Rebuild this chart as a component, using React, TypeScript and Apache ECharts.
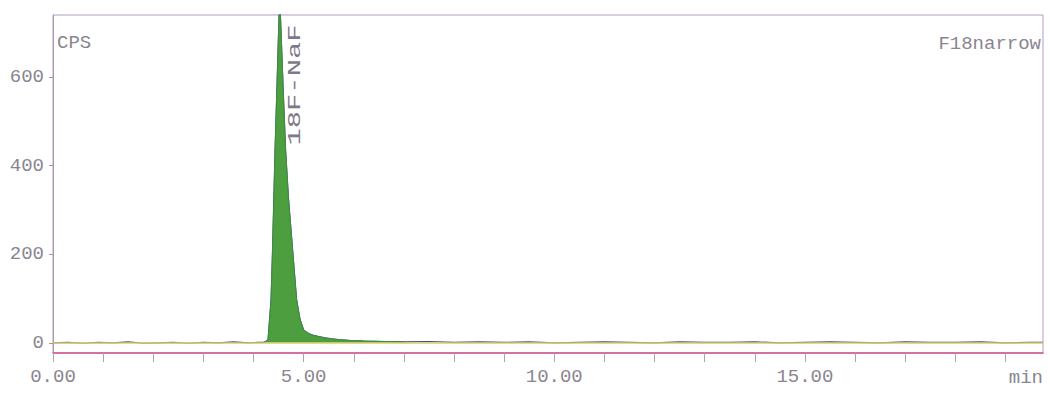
import React, { useEffect, useRef } from "react";
import * as echarts from "echarts";

// Chromatogram samples: retention time (min) and counts per second
const timeMin = [
  0, 0.3, 0.6, 0.9, 1.2, 1.5, 1.8, 2.1, 2.4, 2.7, 3.0, 3.3, 3.6, 3.9, 4.1, 4.2,
  4.22, 4.26, 4.29, 4.32, 4.35, 4.38, 4.43, 4.46, 4.51, 4.52, 4.53, 4.6, 4.64,
  4.7, 4.78, 4.86, 4.93, 5.0, 5.08, 5.16, 5.3, 5.43, 5.56, 5.7, 5.95, 6.2, 6.6,
  7.0, 7.5, 8.0, 8.5, 9.0, 9.5, 10.0, 10.5, 11.0, 11.5, 12.0, 12.5, 13.0, 13.5,
  14.0, 14.5, 15.0, 15.5, 16.0, 16.5, 17.0, 17.5, 18.0, 18.5, 19.0, 19.5, 19.75,
];
const cps = [
  0, 1, -1, 1, 0, 2, -1, 0, 1, -1, 1, 0, 2, 0, 1, 1,
  2, 4, 7, 52, 97, 210, 435, 548, 740, 770, 760, 548, 435,
  322, 210, 97, 52, 29, 22, 18, 14, 11, 9, 7, 5, 4, 3,
  2, 3, 1, 2, 1, 2, 0, 1, 2, 1, 0, 2, 1, 1,
  2, 0, 1, 2, 1, 0, 2, 1, 1, 2, 0, 1, 1,
];

const xTickValues = [0, 1, 2, 3, 4, 5, 6, 7, 8, 9, 10, 11, 12, 13, 14, 15, 16, 17, 18, 19];
const xLabelValues = [0, 5, 10, 15];
const yLabelValues = [0, 200, 400, 600];

const peakName = "18F-NaF";
const peakTime = 4.52;
const peakStart = 4.2;
const peakEnd = 7.0;

const FONT = '"Courier New", "Liberation Mono", monospace';
const TXT = "#8a8590";

export default function App() {
  const ref = useRef<HTMLDivElement>(null);

  useEffect(() => {
    document.body.style.margin = "0";
    const chart = echarts.init(ref.current!, null, { renderer: "svg" });
    const all = timeMin.map((t, i) => [t, cps[i]]);
    const peak = all.filter((p) => p[0] >= peakStart && p[0] <= peakEnd);

    chart.setOption({
      animation: false,
      backgroundColor: "#ffffff",
      grid: {
        left: 53,
        right: 6,
        top: 15,
        bottom: 44,
        show: true,
        borderColor: "#b39cc8",
        borderWidth: 1,
      },
      xAxis: {
        type: "value",
        min: 0,
        max: 19.75,
        axisLine: { show: true, onZero: false, lineStyle: { color: "#d3508e", width: 1.5 } },
        axisTick: {
          show: true,
          customValues: xTickValues,
          length: 9,
          lineStyle: { color: "#a8a4b0" },
        },
        axisLabel: {
          customValues: xLabelValues,
          formatter: (v: number) => v.toFixed(2),
          fontFamily: FONT,
          fontSize: 19,
          color: TXT,
          margin: 14,
        },
        splitLine: { show: false },
      },
      yAxis: {
        type: "value",
        min: -23,
        max: 740,
        axisLine: { show: true, onZero: false, lineStyle: { color: "#a89aa8" } },
        axisTick: {
          show: true,
          customValues: yLabelValues,
          length: 4,
          lineStyle: { color: "#b08aa8" },
        },
        axisLabel: {
          customValues: yLabelValues,
          fontFamily: FONT,
          fontSize: 19,
          color: TXT,
          margin: 9,
        },
        splitLine: { show: false },
      },
      series: [
        {
          type: "line",
          data: [],
          z: 1,
          markLine: {
            silent: true,
            symbol: "none",
            label: { show: false },
            lineStyle: { color: "#d9cf6a", width: 1.5, type: "solid" },
            data: [{ yAxis: 0 }],
          },
        },
        {
          type: "line",
          data: all,
          symbol: "none",
          z: 3,
          lineStyle: { color: "#3d4a8c", width: 1.2 },
        },
        {
          type: "line",
          data: peak,
          symbol: "none",
          z: 4,
          lineStyle: { color: "#3f8f3a", width: 1 },
          areaStyle: { color: "#4c9e3e", opacity: 1, origin: 0 },
        },
      ],
    });

    const [px] = chart.convertToPixel({ gridIndex: 0 }, [peakTime, 0]) as number[];
    chart.setOption({
      graphic: [
        {
          type: "text",
          x: 57,
          y: 43,
          style: { text: "CPS", font: `19px ${FONT}`, fill: TXT, verticalAlign: "middle", align: "left" },
        },
        {
          type: "text",
          x: 1041,
          y: 44,
          style: { text: "F18narrow", font: `19px ${FONT}`, fill: TXT, verticalAlign: "middle", align: "right" },
        },
        {
          type: "text",
          x: 1043,
          y: 378,
          style: { text: "min", font: `19px ${FONT}`, fill: TXT, verticalAlign: "middle", align: "right" },
        },
        {
          type: "text",
          x: px + 16,
          y: 85,
          rotation: Math.PI / 2,
          scaleX: 1.6,
          style: { text: peakName, font: `18px ${FONT}`, fill: "#7f7888", verticalAlign: "middle", align: "center" },
        },
      ],
    });

    return () => chart.dispose();
  }, []);

  return <div ref={ref} style={{ width: 1049, height: 397 }} />;
}
